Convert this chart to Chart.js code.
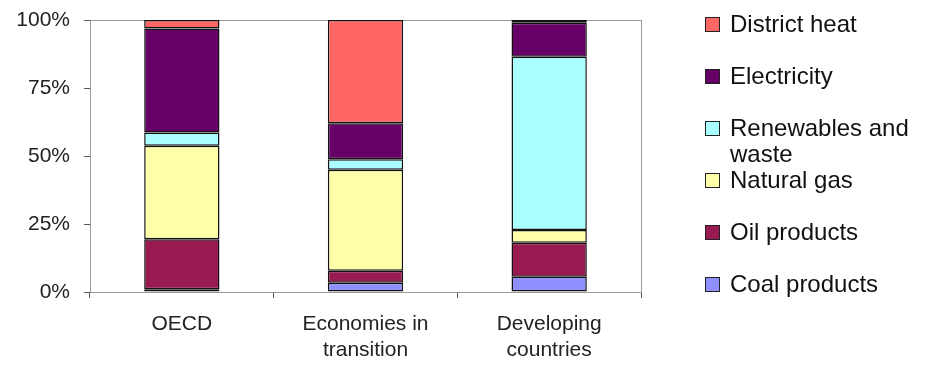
<!DOCTYPE html>
<html>
<head>
<meta charset="utf-8">
<script src="https://cdn.jsdelivr.net/npm/chart.js@4.4.1/dist/chart.umd.min.js"></script>
<style>
    html, body { margin: 0; padding: 0; background: #fff; }
    #wrap { position: relative; width: 927px; height: 367px; }
    #legend { position: absolute; left: 705px; top: 0; font-family: "Liberation Sans", Arial, sans-serif; font-size: 24px; color: #111; }
    .item { position: absolute; left: 0; display: flex; align-items: flex-start; }
    .box { width: 13px; height: 13px; border: 1px solid #222; margin-top: 6px; flex: none; }
    .txt { margin-left: 10px; width: 195px; line-height: 26px; }
</style>
</head>
<body>
<div id="wrap">
    <canvas id="chart-energy"></canvas>
    <div id="legend"></div>
</div>
<script>
const categories = ['OECD', ['Economies in', 'transition'], ['Developing', 'countries']];
const coal_products = [1, 3.4, 5.6];
const oil_products = [18.4, 4.4, 12.5];
const natural_gas = [34.4, 37.1, 4.7];
const renewables = [4.8, 3.9, 63.7];
const electricity = [38.3, 13.2, 12.5];
const district_heat = [3.1, 38, 1];
const y_ticks = [0, 25, 50, 75, 100];

const font_axis = { family: '"Liberation Sans", Arial, sans-serif', size: 21 };

function series(label, data, color) {
    return {
        label: label,
        data: data,
        backgroundColor: color,
        borderColor: '#111',
        borderWidth: 1.5,
        borderSkipped: false,
        barPercentage: 0.41,
        categoryPercentage: 1,
    };
}

const data_energy = {
    labels: categories,
    datasets: [
        series('Coal products', coal_products, '#8f8fff'),
        series('Oil products', oil_products, '#991a50'),
        series('Natural gas', natural_gas, '#ffffaa'),
        series('Renewables and waste', renewables, '#aaffff'),
        series('Electricity', electricity, '#660066'),
        series('District heat', district_heat, '#ff6666'),
    ]
};

// plot area frame
const frame = {
    id: 'frame',
    beforeDatasetsDraw(chart) {
        const a = chart.chartArea;
        const ctx = chart.ctx;
        ctx.save();
        ctx.strokeStyle = '#999';
        ctx.lineWidth = 1;
        ctx.strokeRect(a.left + 0.5, a.top + 0.5, a.right - a.left, a.bottom - a.top);
        ctx.restore();
    }
};

const config_energy = {
    type: 'bar',
    data: data_energy,
    plugins: [frame],
    options: {
        responsive: false,
        animation: false,
        layout: { padding: { top: 20, right: 286, left: 0, bottom: 0 } },
        plugins: {
            legend: { display: false },
            tooltip: { enabled: false },
        },
        scales: {
            x: {
                stacked: true,
                grid: { offset: true, drawOnChartArea: false, tickLength: 6, color: '#555' },
                border: { color: '#444', width: 1 },
                ticks: { font: font_axis, color: '#222', padding: 14, maxRotation: 0 },
                afterFit(scale) { scale.height = 75; scale.paddingLeft = 0; scale.paddingRight = 0; },
            },
            y: {
                stacked: true,
                min: 0,
                max: 100,
                afterBuildTicks(scale) { scale.ticks = y_ticks.map(v => ({ value: v })); },
                grid: { drawOnChartArea: false, tickLength: 6, color: '#555' },
                border: { color: '#444', width: 1 },
                ticks: { font: font_axis, color: '#222', padding: 14, callback: v => v + '%' },
                afterFit(scale) { scale.width = 90; scale.paddingTop = 0; scale.paddingBottom = 0; },
            }
        }
    }
};

const canvas = document.getElementById('chart-energy');
canvas.width = 927;
canvas.height = 367;
var chart_energy = new Chart(canvas, config_energy);

// legend, top item is the top of the stack
const legend = document.getElementById('legend');
data_energy.datasets.slice().reverse().forEach((ds, i) => {
    const item = document.createElement('div');
    item.className = 'item';
    item.style.top = (11 + i * 52) + 'px';
    const box = document.createElement('div');
    box.className = 'box';
    box.style.background = ds.backgroundColor;
    const txt = document.createElement('div');
    txt.className = 'txt';
    txt.textContent = ds.label;
    item.appendChild(box);
    item.appendChild(txt);
    legend.appendChild(item);
});
</script>
</body>
</html>
